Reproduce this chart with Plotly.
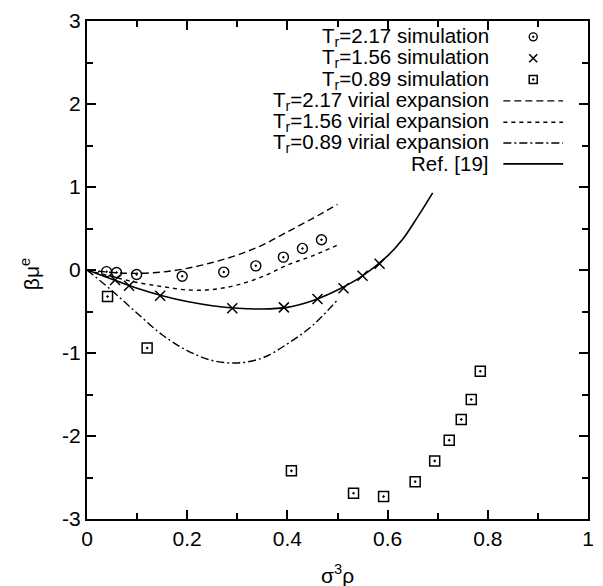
import plotly.graph_objects as go

# ---- data ----
sim217_x = [0.039, 0.059, 0.099, 0.19, 0.273, 0.337, 0.392, 0.43, 0.468]
sim217_y = [-0.02, -0.03, -0.055, -0.075, -0.025, 0.05, 0.155, 0.26, 0.365]

sim156_x = [0.056, 0.084, 0.146, 0.29, 0.393, 0.46, 0.512, 0.55, 0.584]
sim156_y = [-0.12, -0.19, -0.31, -0.46, -0.45, -0.35, -0.22, -0.07, 0.075]

sim089_x = [0.041, 0.12, 0.408, 0.532, 0.592, 0.655, 0.694, 0.723, 0.747, 0.767, 0.785]
sim089_y = [-0.32, -0.94, -2.42, -2.69, -2.73, -2.55, -2.30, -2.05, -1.80, -1.56, -1.22]

vir_x = [0, 0.05, 0.1, 0.15, 0.2, 0.25, 0.3, 0.35, 0.4, 0.45, 0.5]
vir217_y = [0, -0.03, -0.04, -0.025, 0.02, 0.09, 0.18, 0.3, 0.46, 0.62, 0.79]
vir156_y = [0, -0.08, -0.15, -0.2, -0.24, -0.235, -0.18, -0.08, 0.06, 0.17, 0.3]
vir089_y = [0, -0.25, -0.52, -0.78, -0.97, -1.09, -1.12, -1.06, -0.89, -0.67, -0.36]

ref_x = [0, 0.05, 0.1, 0.15, 0.2, 0.25, 0.3, 0.35, 0.4, 0.45, 0.5, 0.55, 0.6, 0.63, 0.66, 0.69]
ref_y = [0, -0.11, -0.22, -0.31, -0.38, -0.43, -0.46, -0.47, -0.45, -0.37, -0.24, -0.07, 0.17, 0.37, 0.64, 0.93]

legend_labels = [
    "T<sub>r</sub>=2.17 simulation",
    "T<sub>r</sub>=1.56 simulation",
    "T<sub>r</sub>=0.89 simulation",
    "T<sub>r</sub>=2.17 virial expansion",
    "T<sub>r</sub>=1.56 virial expansion",
    "T<sub>r</sub>=0.89 virial expansion",
    "Ref. [19]",
]

x_ticks = [0, 0.2, 0.4, 0.6, 0.8, 1]
x_ticklabels = ["0", "0.2", "0.4", "0.6", "0.8", "1"]
y_ticks = [-3, -2, -1, 0, 1, 2, 3]
y_ticklabels = ["-3", "-2", "-1", "0", "1", "2", "3"]

FONT = "Liberation Sans, Arial, Helvetica, sans-serif"
BLACK = "black"

# line / marker styles
dash217 = "7px,4px"
dash156 = "4px,4px"
dash089 = "8px,3px,2px,3px"
LW = 1.4

circle = dict(symbol="circle-open-dot", size=10, color=BLACK, line=dict(width=1.4, color=BLACK))
cross = dict(symbol="x-thin-open", size=10, color=BLACK, line=dict(width=1.5, color=BLACK))
square = dict(symbol="square-open-dot", size=10, color=BLACK, line=dict(width=1.5, color=BLACK))

fig = go.Figure()

fig.add_trace(go.Scatter(x=vir_x, y=vir217_y, mode="lines", line=dict(color=BLACK, width=LW, dash=dash217, shape="spline")))
fig.add_trace(go.Scatter(x=vir_x, y=vir156_y, mode="lines", line=dict(color=BLACK, width=LW, dash=dash156, shape="spline")))
fig.add_trace(go.Scatter(x=vir_x, y=vir089_y, mode="lines", line=dict(color=BLACK, width=LW, dash=dash089, shape="spline")))
fig.add_trace(go.Scatter(x=ref_x, y=ref_y, mode="lines", line=dict(color=BLACK, width=1.6, shape="spline")))

fig.add_trace(go.Scatter(x=sim217_x, y=sim217_y, mode="markers", marker=circle))
fig.add_trace(go.Scatter(x=sim156_x, y=sim156_y, mode="markers", marker=cross))
fig.add_trace(go.Scatter(x=sim089_x, y=sim089_y, mode="markers", marker=square))

# ---- gnuplot-style legend (text right, sample at right) on overlay axes ----
W, H = 603, 586
PLOT_L, PLOT_R, PLOT_T, PLOT_B = 87, 590, 17, 519
def px2x(px):
    return (px - PLOT_L) / (PLOT_R - PLOT_L)
def py2y(py):
    return (PLOT_B - py) / (PLOT_B - PLOT_T)

rows_py = [33, 54.5, 76, 97.5, 119, 140, 161]
text_right = 493
marker_cx = 535
line_x0, line_x1 = 505, 565

for lab, py in zip(legend_labels, rows_py):
    fig.add_annotation(x=px2x(text_right), y=py2y(py), xref="paper", yref="paper",
                       text=lab, showarrow=False, xanchor="right", yanchor="middle",
                       font=dict(family=FONT, size=20.5, color=BLACK))

for mk, py in zip([circle, cross, square], rows_py[:3]):
    m = dict(mk)
    m["size"] = 8
    fig.add_trace(go.Scatter(x=[px2x(marker_cx)], y=[py2y(py)], xaxis="x2", yaxis="y2",
                             mode="markers", marker=m, hoverinfo="skip"))

for dsh, py, w in zip([dash217, dash156, dash089, "solid"], rows_py[3:], [LW, LW, LW, 1.6]):
    fig.add_trace(go.Scatter(x=[px2x(line_x0), px2x(line_x1)], y=[py2y(py), py2y(py)],
                             xaxis="x2", yaxis="y2", mode="lines",
                             line=dict(color=BLACK, width=w, dash=dsh), hoverinfo="skip"))

axis_common = dict(
    showgrid=False, zeroline=False, showline=True, linecolor=BLACK, linewidth=2,
    mirror="allticks", ticks="inside", ticklen=9, tickwidth=1.5, tickcolor=BLACK,
    tickfont=dict(family=FONT, size=21, color=BLACK),
)

# small compensation for the renderer's plot-area placement
ADJ_R, ADJ_T = 4, 5

fig.update_layout(
    width=W, height=H,
    margin=dict(l=PLOT_L, r=W - PLOT_R - ADJ_R, t=PLOT_T - ADJ_T, b=H - PLOT_B),
    paper_bgcolor="white", plot_bgcolor="white",
    showlegend=False,
    xaxis=dict(range=[0, 1], tickvals=x_ticks, ticktext=x_ticklabels,
               minor=dict(dtick=0.1, ticks="inside", ticklen=6, tickwidth=1.5, tickcolor=BLACK),
               **axis_common),
    yaxis=dict(range=[-3, 3], tickvals=y_ticks, ticktext=y_ticklabels,
               minor=dict(dtick=0.5, ticks="inside", ticklen=6, tickwidth=1.5, tickcolor=BLACK),
               **axis_common),
    xaxis2=dict(range=[0, 1], overlaying="x", visible=False),
    yaxis2=dict(range=[0, 1], overlaying="y", visible=False),
)

fig.add_annotation(x=px2x(338), y=py2y(574), xref="paper", yref="paper",
                   text="σ<sup>3</sup>ρ", showarrow=False, xanchor="center", yanchor="middle",
                   font=dict(family=FONT, size=21, color=BLACK))
fig.add_annotation(x=px2x(30), y=py2y(272), xref="paper", yref="paper",
                   text="βμ<sup>e</sup>", showarrow=False, textangle=-90,
                   xanchor="center", yanchor="middle",
                   font=dict(family=FONT, size=21, color=BLACK))

fig.write_html("out.html", config={"displayModeBar": False},
               post_script="document.body.style.margin='0';document.body.style.overflow='hidden';")
